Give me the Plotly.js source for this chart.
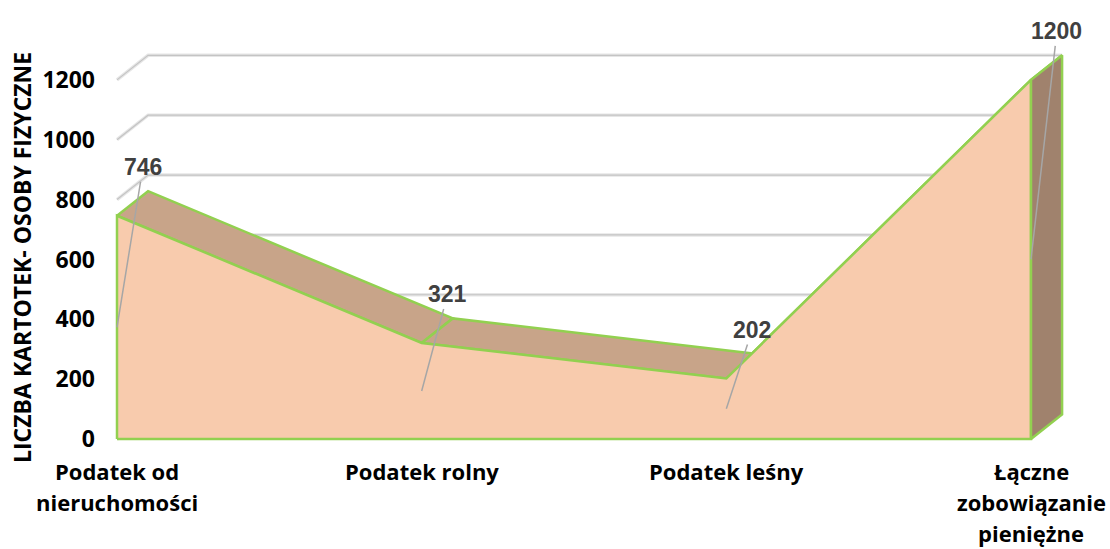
<!DOCTYPE html>
<html><head><meta charset="utf-8">
<script src="https://cdn.plot.ly/plotly-3.0.1.min.js"></script>
<style>html,body{margin:0;padding:0;background:#fff}#chart{width:1110px;height:549px}</style>
</head><body><div id="chart"></div>
<script>
// ---- data ----
const categories = ["Podatek od<br>nieruchomości", "Podatek rolny", "Podatek leśny", "Łączne<br>zobowiązanie<br>pieniężne"];
const values = [746, 321, 202, 1200];
const yTicks = [0, 200, 400, 600, 800, 1000, 1200];
const yTitle = "LICZBA KARTOTEK- OSOBY FIZYCZNE";

// ---- styling / 3D depth (in axis units) ----
const DX = 0.102, DY = 82;        // depth offset of the back plane
const LX = 0.085, LY = 162;       // data label offset from value point
const FRONT = '#F8CBAD', TOP = '#C8A489', SIDE = '#A0826D', EDGE = '#92D050';
const n = values.length;
const idx = values.map((v, i) => i);
const last = n - 1;

const traces = [];

// back-wall gridlines
const gx = [], gy = [];
yTicks.forEach(v => { gx.push(0, DX, last + DX, null); gy.push(v, v + DY, v + DY, null); });
traces.push({type:'scatter', mode:'lines', x:gx, y:gy, line:{color:'#e6e6e6', width:3.5}, hoverinfo:'skip'});
traces.push({type:'scatter', mode:'lines', x:gx, y:gy, line:{color:'#c4c4c4', width:1.2}, hoverinfo:'skip'});

// top ribbon segments
for (let i = 0; i < last; i++) {
  traces.push({type:'scatter', mode:'lines', fill:'toself', fillcolor:TOP,
    x:[i, i + 1, i + 1 + DX, i + DX, i],
    y:[values[i], values[i + 1], values[i + 1] + DY, values[i] + DY, values[i]],
    line:{color:EDGE, width:2.5}, hoverinfo:'skip'});
}

// front face
traces.push({type:'scatter', mode:'lines', fill:'toself', fillcolor:FRONT,
  x:[0].concat(idx, [last, 0]), y:[0].concat(values, [0, 0]),
  line:{color:EDGE, width:2.5}, hoverinfo:'skip'});

// right side face
traces.push({type:'scatter', mode:'lines', fill:'toself', fillcolor:SIDE,
  x:[last, last, last + DX, last + DX, last],
  y:[0, values[last], values[last] + DY, DY, 0],
  line:{color:EDGE, width:2.5}, hoverinfo:'skip'});

const annotations = [];
// data labels with leader lines
values.forEach((v, i) => {
  annotations.push({x:i, y:v / 2, xref:'x', yref:'y', ax:i + LX, ay:v + LY, axref:'x', ayref:'y',
    text:String(v), showarrow:true, arrowhead:0, arrowwidth:1.5, arrowcolor:'#a6a6a6', standoff:0,
    font:{family:'Liberation Sans, Arial, sans-serif', size:23, color:'#404040', weight:700}});
});
// category labels
categories.forEach((c, i) => {
  c.split('<br>').forEach((line, j) => {
    annotations.push({x:i, xref:'x', y:0, yref:'paper', yanchor:'middle', xanchor:'center',
      yshift:-(26 + 31 * j), text:line, showarrow:false,
      font:{family:'Open Sans, sans-serif', size:22, color:'#000', weight:700}});
  });
});
// y-axis title
annotations.push({xref:'paper', yref:'paper', x:(22 - 100) / 980, y:(445 - 258) / 425,
  xanchor:'center', yanchor:'middle', textangle:-90, text:yTitle, showarrow:false,
  font:{family:'Open Sans, sans-serif', size:23, color:'#000', weight:700}});

const layout = {
  width:1110, height:549,
  margin:{l:100, r:30, t:20, b:104},
  paper_bgcolor:'#fff', plot_bgcolor:'#fff',
  showlegend:false, hovermode:false,
  xaxis:{range:[-17 / 304.67, last + 49 / 304.67], showgrid:false, zeroline:false, showline:false,
    showticklabels:false, ticks:'', fixedrange:true},
  yaxis:{range:[-20, 1400], tickvals:yTicks, ticktext:yTicks.map(String), showgrid:false, zeroline:false,
    showline:false, ticks:'', ticklabelstandoff:4, fixedrange:true,
    tickfont:{family:'Open Sans, sans-serif', size:23, color:'#000', weight:700}},
  annotations:annotations
};

Plotly.newPlot('chart', traces, layout, {displayModeBar:false, staticPlot:true});
</script>
</body></html>
